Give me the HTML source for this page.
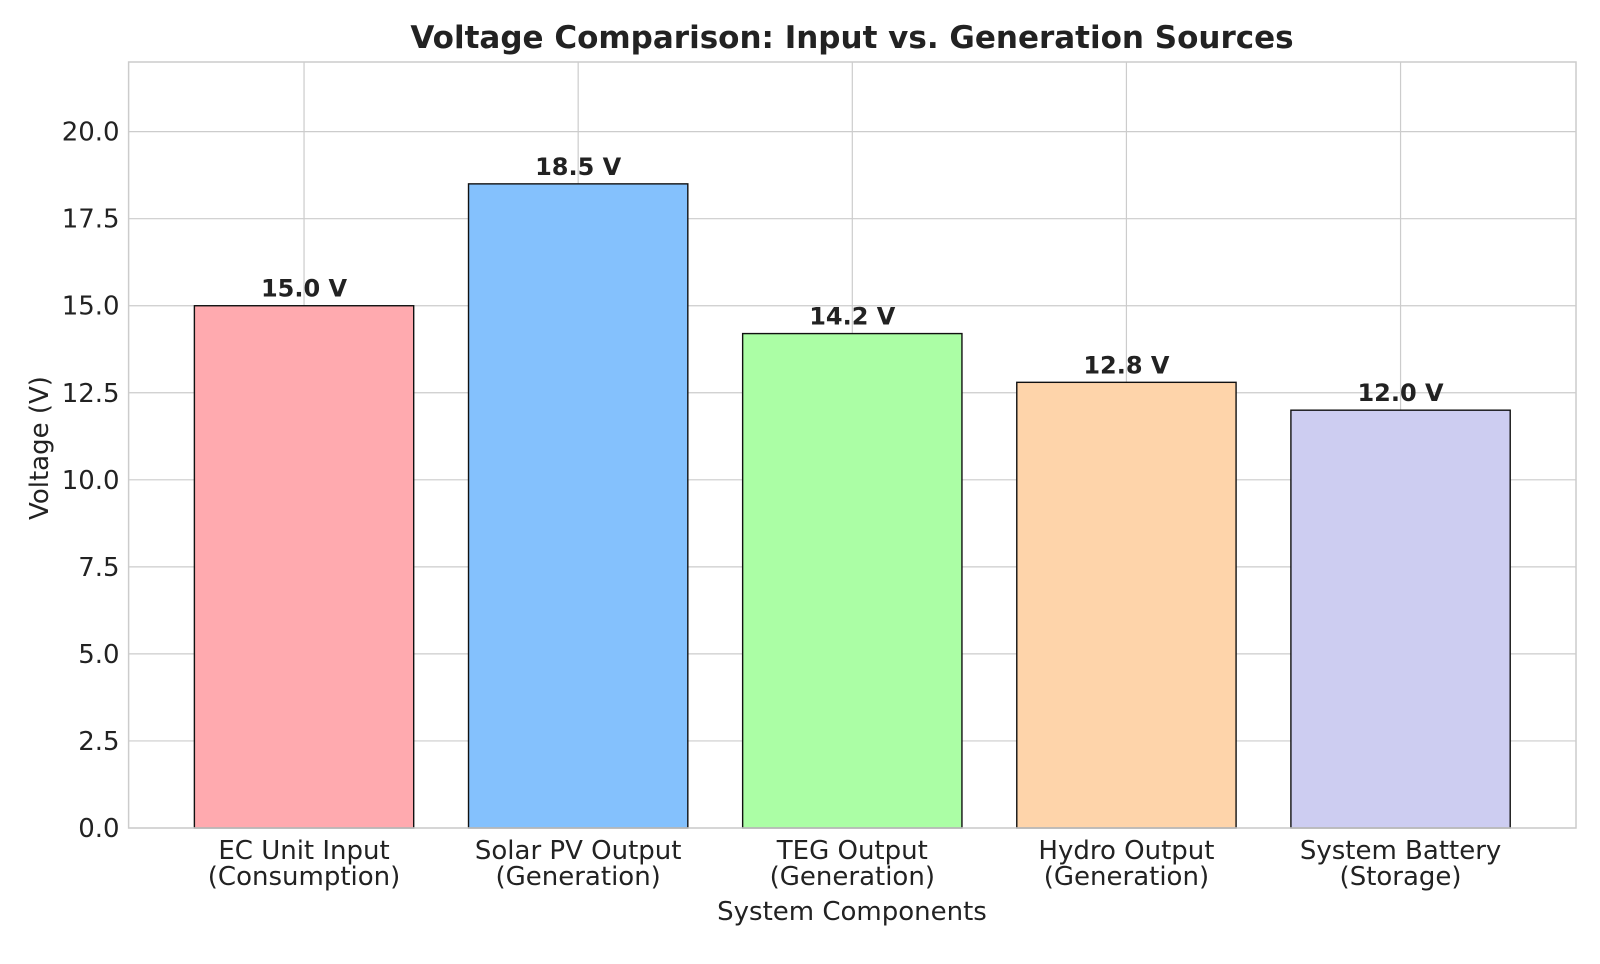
<!DOCTYPE html>
<html><head><meta charset="utf-8"><style>
body{margin:0;background:#fff;font-family:"DejaVu Sans","Liberation Sans",sans-serif;}
svg text{font-family:"DejaVu Sans","Liberation Sans",sans-serif;fill:#222;}
</style></head><body>
<svg id="chart" width="1600" height="960" xmlns="http://www.w3.org/2000/svg"></svg>
<script>
const categories1=["EC Unit Input","Solar PV Output","TEG Output","Hydro Output","System Battery"];
const categories2=["(Consumption)","(Generation)","(Generation)","(Generation)","(Storage)"];
const values=[15.0,18.5,14.2,12.8,12.0];
const colors=["#ffaaaf","#84c1fd","#abfea5","#fed4aa","#cdcdf1"];
const yTicks=[0,2.5,5,7.5,10,12.5,15,17.5,20];
const L=128.6,R=1576,T=62,B=828,yMax=22,xMin=-0.64,xMax=4.64;
const svg=document.getElementById('chart');
const NS="http://www.w3.org/2000/svg";
const X=v=>L+(v-xMin)/(xMax-xMin)*(R-L);
const Y=v=>B-v/yMax*(B-T);
function mk(tag,attrs,parent){const e=document.createElementNS(NS,tag);for(const k in attrs)e.setAttribute(k,attrs[k]);(parent||svg).appendChild(e);return e;}
yTicks.forEach(t=>{
 const l=mk('line',{x1:L,x2:R,y1:Y(t),y2:Y(t),stroke:'#cccccc','stroke-width':1.2});
 
 
 const tx=mk('text',{x:L-9,y:Y(t)+9,'text-anchor':'end','font-size':'26'});
 tx.textContent=t.toFixed(1);
 
 
});
values.forEach((v,i)=>{
 const l=mk('line',{x1:X(i),x2:X(i),y1:T,y2:B,stroke:'#cccccc','stroke-width':1.2});
 
 
});
const w=0.8*(X(1)-X(0));
values.forEach((v,i)=>{
 const r=mk('rect',{x:X(i)-w/2,y:Y(v),width:w,height:B-Y(v),fill:colors[i],stroke:'#111','stroke-width':1.4});
 
 
 const lb=mk('text',{x:X(i),y:Y(v)-9,'text-anchor':'middle','font-size':'24','font-weight':'bold'});
 lb.textContent=v.toFixed(1)+' V';
 
 
 const t1=mk('text',{x:X(i),y:B+31,'text-anchor':'middle','font-size':'26'});
 t1.textContent=categories1[i];
 
 
 const t2=mk('text',{x:X(i),y:B+57,'text-anchor':'middle','font-size':'26'});
 t2.textContent=categories2[i];
 
 
});
const f=mk('rect',{x:L,y:T,width:R-L,height:B-T,fill:'none',stroke:'#cccccc','stroke-width':1.5});


</script>
<svg style="position:absolute;left:0;top:0" width="1600" height="960" xmlns="http://www.w3.org/2000/svg">
<text x="852" y="48" text-anchor="middle" font-size="31" font-weight="bold">Voltage Comparison: Input vs. Generation Sources</text>
<text x="852" y="920" text-anchor="middle" font-size="26">System Components</text>
<text transform="translate(48,448) rotate(-90)" text-anchor="middle" font-size="26">Voltage (V)</text>
</svg>
</body></html>
